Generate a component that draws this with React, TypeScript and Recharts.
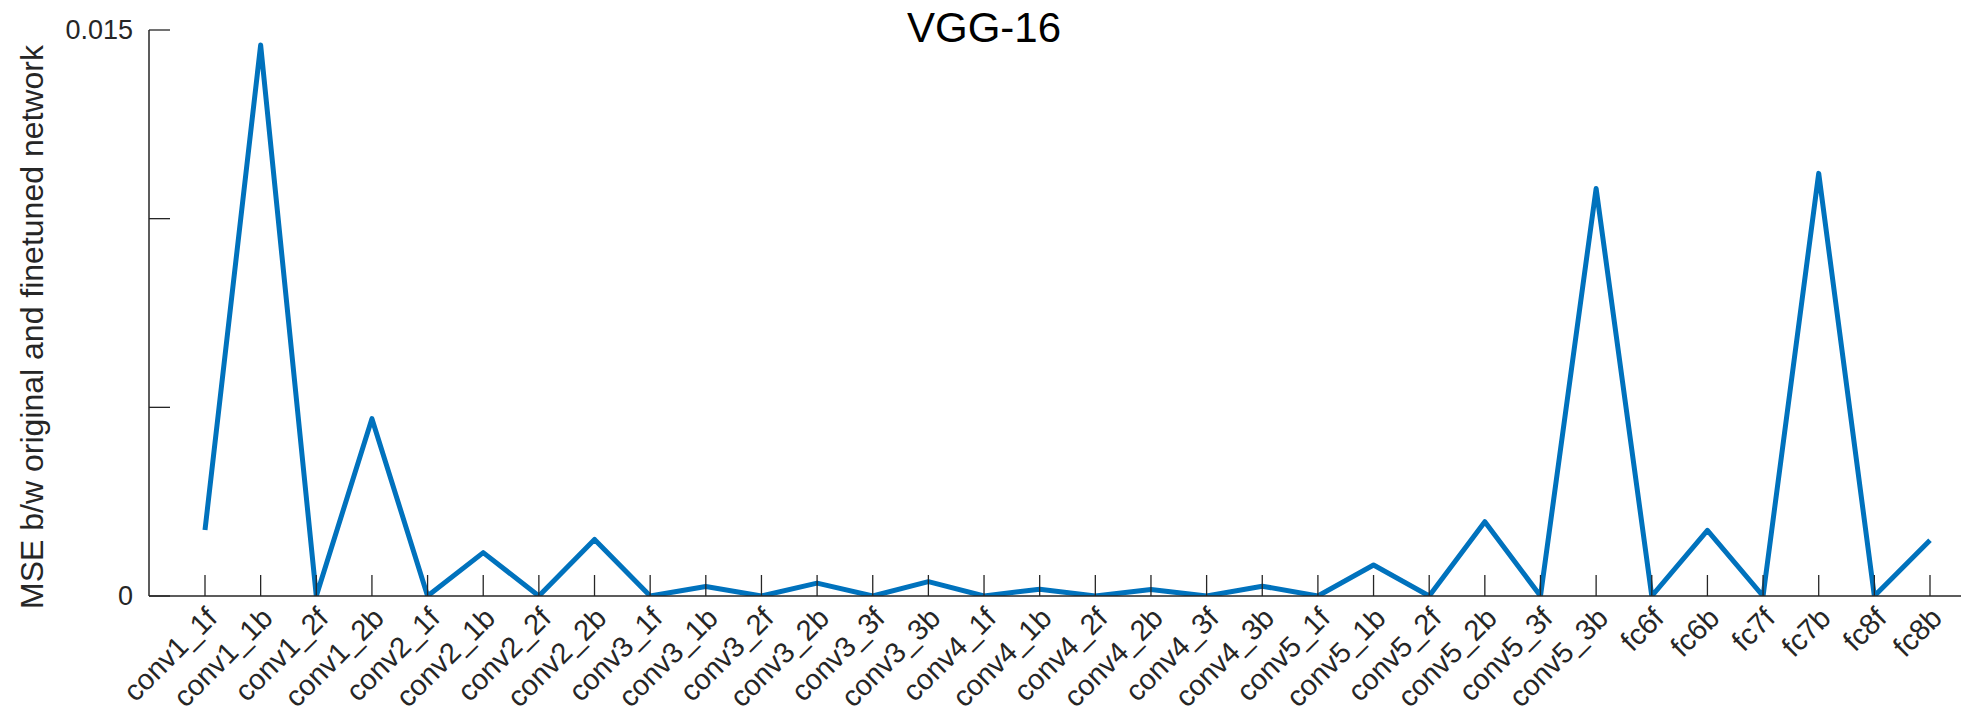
import React from 'react';
import { LineChart, Line, XAxis, YAxis } from 'recharts';

const categories = [
  'conv1_1f', 'conv1_1b', 'conv1_2f', 'conv1_2b',
  'conv2_1f', 'conv2_1b', 'conv2_2f', 'conv2_2b',
  'conv3_1f', 'conv3_1b', 'conv3_2f', 'conv3_2b', 'conv3_3f', 'conv3_3b',
  'conv4_1f', 'conv4_1b', 'conv4_2f', 'conv4_2b', 'conv4_3f', 'conv4_3b',
  'conv5_1f', 'conv5_1b', 'conv5_2f', 'conv5_2b', 'conv5_3f', 'conv5_3b',
  'fc6f', 'fc6b', 'fc7f', 'fc7b', 'fc8f', 'fc8b',
];

const mseValues = [
  0.00175, 0.0146, 0, 0.0047,
  0, 0.00115, 0, 0.0015,
  0, 0.00025, 0, 0.00034, 0, 0.00038,
  0, 0.00018, 0, 0.00017, 0, 0.00026,
  0, 0.00082, 0, 0.00197, 0, 0.0108,
  0, 0.00174, 0, 0.0112, 0, 0.00148,
];

const yTicks = [0, 0.005, 0.01, 0.015];
const yTickLabels = ['0', '', '', '0.015'];

const title = 'VGG-16';
const yLabel = 'MSE b/w original and finetuned network';

const data = categories.map((c, i) => ({ layer: c, mse: mseValues[i] }));

const FONT = '"Liberation Sans", Arial, Helvetica, sans-serif';
const AXIS_COLOR = '#262626';
const TICK_LEN = 21;

const XTick = (props: any) => {
  const { x, y, payload } = props;
  const ax = x - 1;
  const ay = y + 9;
  return (
    <g>
      <line x1={x} y1={y} x2={x} y2={y - TICK_LEN} stroke={AXIS_COLOR} strokeWidth={1.3} />
      <text
        x={ax}
        y={ay}
        dy="0.72em"
        textAnchor="end"
        transform={`rotate(-45, ${ax}, ${ay})`}
        fontFamily={FONT}
        fontSize={29}
        fill={AXIS_COLOR}
      >
        {payload.value}
      </text>
    </g>
  );
};

const YTick = (props: any) => {
  const { x, y, payload } = props;
  const label = yTickLabels[yTicks.indexOf(payload.value)] ?? '';
  return (
    <g>
      <line x1={x} y1={y} x2={x + TICK_LEN} y2={y} stroke={AXIS_COLOR} strokeWidth={1.3} />
      <text
        x={x - 16}
        y={y}
        dy="0.35em"
        textAnchor="end"
        fontFamily={FONT}
        fontSize={27}
        fill={AXIS_COLOR}
      >
        {label}
      </text>
    </g>
  );
};

export default function App() {
  return (
    <div style={{ position: 'absolute', left: 0, top: 0, width: 1968, height: 712, background: '#fff' }}>
      <LineChart
        width={1968}
        height={712}
        data={data}
        margin={{ top: 30, right: 7, bottom: 0, left: 0 }}
      >
        <XAxis
          dataKey="layer"
          type="category"
          height={116}
          padding={{ left: 56, right: 31 }}
          interval={0}
          tickSize={0}
          tickMargin={0}
          tick={<XTick />}
          tickLine={false}
          axisLine={{ stroke: AXIS_COLOR, strokeWidth: 1.5 }}
        />
        <YAxis
          type="number"
          domain={[0, 0.015]}
          ticks={yTicks}
          width={149}
          interval={0}
          tickSize={0}
          tickMargin={0}
          tick={<YTick />}
          tickLine={false}
          axisLine={{ stroke: AXIS_COLOR, strokeWidth: 1.5 }}
          allowDataOverflow
        />
        <Line
          type="linear"
          dataKey="mse"
          stroke="#0072BD"
          strokeWidth={5}
          strokeLinejoin="round"
          dot={false}
          activeDot={false}
          isAnimationActive={false}
        />
      </LineChart>
      <div
        style={{
          position: 'absolute',
          left: 984,
          top: 7,
          transform: 'translateX(-50%)',
          fontFamily: FONT,
          fontSize: 42,
          color: '#000',
          whiteSpace: 'nowrap',
          lineHeight: 1,
        }}
      >
        {title}
      </div>
      <div
        style={{
          position: 'absolute',
          left: 32,
          top: 327,
          transform: 'translate(-50%, -50%) rotate(-90deg)',
          fontFamily: FONT,
          fontSize: 32,
          color: AXIS_COLOR,
          whiteSpace: 'nowrap',
          lineHeight: 1,
        }}
      >
        {yLabel}
      </div>
    </div>
  );
}
